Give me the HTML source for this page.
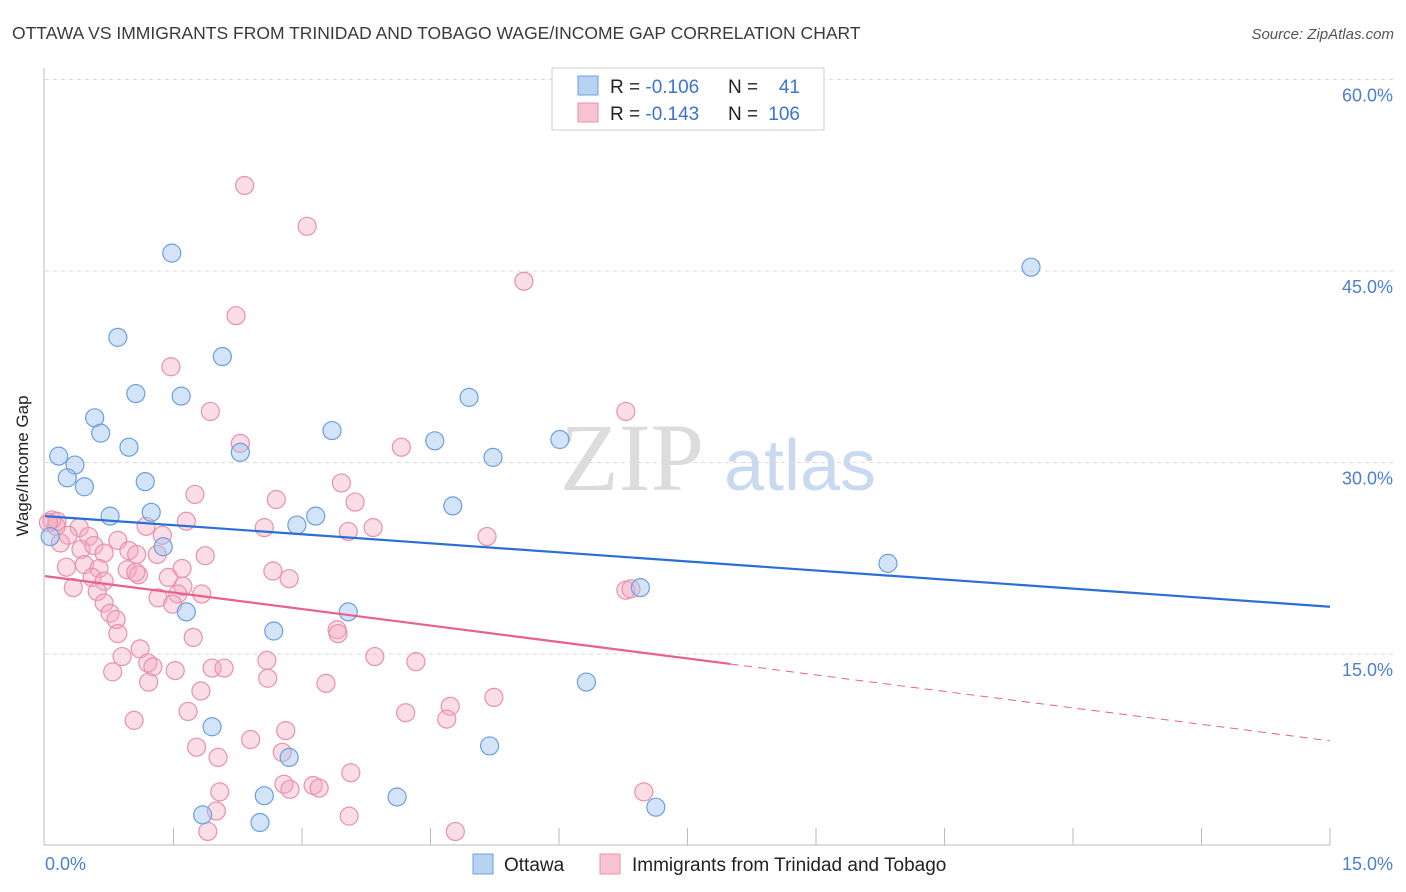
<!DOCTYPE html>
<html><head><meta charset="utf-8"><style>
body{margin:0;background:#fff;font-family:"Liberation Sans",sans-serif;}
#wrap{position:relative;width:1406px;height:892px;overflow:hidden;}
</style></head><body>
<div id="wrap">
<svg id="chart" width="1406" height="892" font-family="Liberation Sans, sans-serif">
<text x="12" y="39" font-size="17.5" fill="#3a3a3a">OTTAWA VS IMMIGRANTS FROM TRINIDAD AND TOBAGO WAGE/INCOME GAP CORRELATION CHART</text>
<text x="1394" y="39" font-size="15" fill="#555" font-style="italic" text-anchor="end">Source: ZipAtlas.com</text>
<g><text x="632" y="490" font-size="96" font-family="Liberation Serif, serif" fill="#dcdcdc" text-anchor="middle">ZIP</text><text x="800" y="490" font-size="72" fill="#c9daf0" text-anchor="middle">atlas</text></g>
<g id="grid"></g>
<line x1="44" y1="68" x2="44" y2="845" stroke="#bbb"/>
<line x1="44" y1="845" x2="1330" y2="845" stroke="#bbb"/>
<g id="ticks"></g>
<text x="18" y="456" font-size="17" fill="#222" transform="rotate(-90 28 456)" text-anchor="middle">Wage/Income Gap</text>
<text x="45" y="870" font-size="18" fill="#4a7fd4">0.0%</text>
<text x="1393" y="870" font-size="18" fill="#4a7fd4" text-anchor="end">15.0%</text>
<g id="pink"></g><g id="blue"></g><g id="trends"></g>
<g>
<rect x="552" y="68" width="272" height="62" fill="#fff" stroke="#ccc"/>
<rect x="578" y="76" width="20" height="19" fill="#b9d2f3" stroke="#6a9fe0"/>
<rect x="578" y="103" width="20" height="19" fill="#f8c4d2" stroke="#e891ab"/>
<text x="610" y="93" font-size="19" fill="#222">R = <tspan fill="#3b73d1">-0.106</tspan></text>
<text x="728" y="93" font-size="19" fill="#222">N =</text><text x="800" y="93" font-size="19" fill="#3b73d1" text-anchor="end">41</text>
<text x="610" y="120" font-size="19" fill="#222">R = <tspan fill="#3b73d1">-0.143</tspan></text>
<text x="728" y="120" font-size="19" fill="#222">N =</text><text x="800" y="120" font-size="19" fill="#3b73d1" text-anchor="end">106</text>
</g>
<g>
<rect x="473" y="854" width="20" height="20" fill="#b9d2f3" stroke="#6a9fe0"/>
<text x="504" y="871" font-size="19" fill="#222">Ottawa</text>
<rect x="600" y="854" width="20" height="20" fill="#f8c4d2" stroke="#e891ab"/>
<text x="632" y="871" font-size="19" fill="#222">Immigrants from Trinidad and Tobago</text>
</g>
</svg>
</div>
<script>
const yTicks=[15,30,45,60];
const yTickLabels=["15.0%","30.0%","45.0%","60.0%"];
const xTicks=[1.5,3,4.5,6,7.5,9,10.5,12,13.5,15];
const blueX=[1.48,0.85,2.07,1.06,1.59,0.58,0.65,0.98,0.16,0.35,0.26,0.46,1.17,0.76,1.24,1.38,2.28,3.35,2.94,3.16,3.54,1.65,2.67,1.95,2.85,1.84,2.56,2.51,4.11,4.95,4.55,5.23,4.76,6.01,5.19,6.95,6.32,7.13,9.84,11.51,0.06];
const blueY=[46.4,39.8,38.3,35.4,35.2,33.5,32.3,31.2,30.5,29.8,28.8,28.1,28.5,25.8,26.1,23.4,30.8,32.5,25.1,25.8,18.3,18.3,16.8,9.3,6.9,2.4,3.9,1.8,3.8,35.1,31.7,30.4,26.6,31.8,7.8,20.2,12.8,3.0,22.1,45.3,24.2];
const pinkX=[2.33,3.06,5.59,2.23,1.47,1.93,6.78,2.28,4.16,3.46,1.75,2.70,3.62,1.65,2.56,3.83,3.54,5.16,1.18,0.40,0.27,0.51,0.85,1.37,0.13,0.08,0.14,0.04,0.18,0.42,0.57,0.98,0.69,1.07,1.31,1.87,0.96,0.25,0.46,0.63,1.09,1.60,0.55,0.69,1.06,1.44,0.33,0.61,1.61,1.55,1.83,1.32,1.49,0.69,0.76,0.83,2.66,2.85,6.78,6.84,1.73,3.41,3.42,0.85,1.11,0.90,1.20,1.26,1.52,1.95,2.09,0.79,1.21,2.59,2.60,3.85,4.33,3.28,5.24,4.73,1.82,1.67,1.04,4.21,4.69,2.81,2.40,1.77,2.77,2.02,3.57,2.79,2.86,3.13,3.20,2.04,2.00,3.55,6.99,1.90,4.79];
const pinkY=[51.7,48.5,44.2,41.5,37.5,34.0,34.0,31.5,31.2,28.4,27.5,27.1,26.9,25.4,24.9,24.9,24.6,24.2,25.0,24.9,24.3,24.2,23.9,24.3,25.0,25.5,25.4,25.3,23.7,23.2,23.5,23.1,22.9,22.8,22.8,22.7,21.6,21.8,22.0,21.7,21.2,21.7,21.0,20.7,21.4,21.0,20.2,19.9,20.3,19.7,19.7,19.4,18.9,19.0,18.2,17.7,21.5,20.9,20.0,20.1,16.3,16.9,16.6,16.6,15.4,14.8,14.3,14.0,13.7,13.9,13.9,13.6,12.8,14.5,13.1,14.8,14.4,12.7,11.6,10.9,12.1,10.5,9.8,10.4,9.9,9.0,8.3,7.7,7.3,6.9,5.7,4.8,4.4,4.7,4.5,4.2,2.7,2.3,4.2,1.1,1.1];
const blueTrend=[25.8,18.7];
const pinkTrend=[21.1,8.2];
const pinkSolidEnd=8.0;
const NS="http://www.w3.org/2000/svg";
function xs(v){return 45+v/15*1285;}
function ys(v){return 845.5-v/15*191.5;}
function mk(t,a,p){const e=document.createElementNS(NS,t);for(const k in a)e.setAttribute(k,a[k]);p.appendChild(e);return e;}
const grid=document.getElementById('grid');
yTicks.forEach((t,i)=>{
 const l=mk('line',{x1:45,x2:1393,y1:ys(t),y2:ys(t),stroke:'#dadada','stroke-dasharray':'4,4'},grid);
 
 
 const tx=mk('text',{x:1393,y:ys(t)+22,'font-size':18,fill:'#4a7fd4','text-anchor':'end'},grid);
 tx.textContent=yTickLabels[i];
 
 
});
const tk=document.getElementById('ticks');
xTicks.forEach(t=>{
 const l=mk('line',{x1:xs(t),x2:xs(t),y1:828,y2:845,stroke:'#bbb'},tk);
 
 
});
function pts(X,Y,g,fill,stroke,name){
 const G=document.getElementById(g);
 X.forEach((x,i)=>{
  const c=mk('circle',{cx:xs(x),cy:ys(Y[i]),r:9,fill:fill,stroke:stroke,'stroke-width':1.2},G);
  
  
 });
}
pts(pinkX,pinkY,'pink','rgba(244,166,190,0.38)','#e891ab','immigrants-point');
pts(blueX,blueY,'blue','rgba(160,196,240,0.45)','#6a9fe0','ottawa-point');
const tr=document.getElementById('trends');
const b=mk('line',{x1:xs(0),y1:ys(blueTrend[0]),x2:xs(15),y2:ys(blueTrend[1]),stroke:'#2a6fd6','stroke-width':2.2},tr);


const pe=pinkTrend[0]+(pinkTrend[1]-pinkTrend[0])*pinkSolidEnd/15;
const p=mk('line',{x1:xs(0),y1:ys(pinkTrend[0]),x2:xs(pinkSolidEnd),y2:ys(pe),stroke:'#e8608e','stroke-width':2.2},tr);


const pd=mk('line',{x1:xs(pinkSolidEnd),y1:ys(pe),x2:xs(15),y2:ys(pinkTrend[1]),stroke:'#e8608e','stroke-width':1,'stroke-dasharray':'8,6'},tr);


</script>
</body></html>
